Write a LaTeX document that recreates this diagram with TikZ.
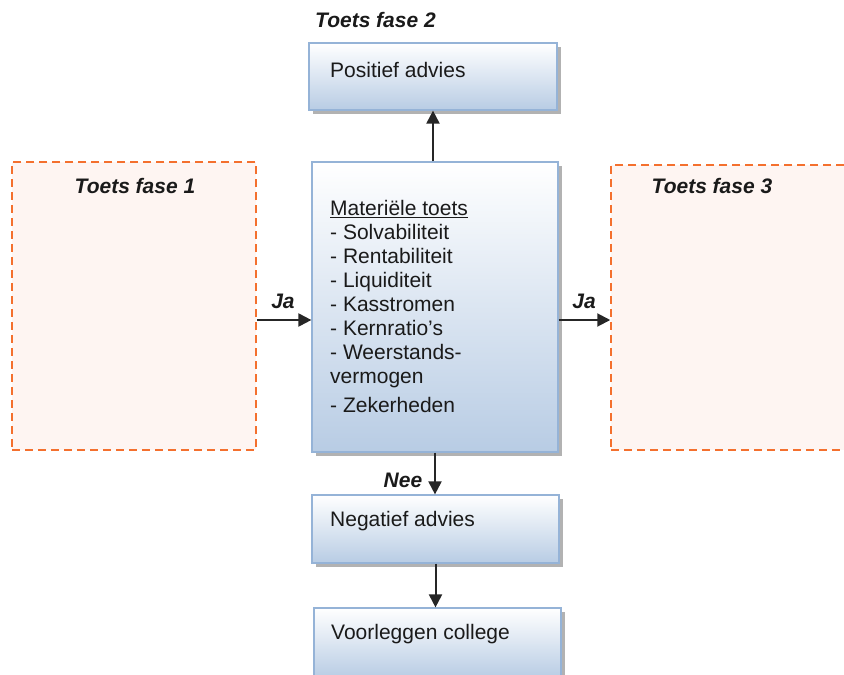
\documentclass[tikz,border=0pt]{standalone}
\usepackage{fontspec}
\setmainfont{Liberation Sans}
\usetikzlibrary{arrows.meta,shadows,calc}
\definecolor{boxtop}{HTML}{FFFFFF}
\definecolor{boxbot}{HTML}{B8CCE4}
\definecolor{boxline}{HTML}{95B3D7}
\definecolor{phaseline}{HTML}{F4702E}
\definecolor{phasefill}{HTML}{FEF5F2}
\definecolor{txt}{HTML}{1A1A1A}
\tikzset{
  bluebox/.style={draw=boxline, line width=1.2pt, top color=boxtop, bottom color=boxbot,
    drop shadow={shadow xshift=4pt, shadow yshift=-4pt, fill=black, opacity=0.3},
    inner sep=0pt},
  phasebox/.style={draw=phaseline, fill=phasefill, line width=1.5pt, dash pattern=on 8pt off 5pt, inner sep=0pt},
  btext/.style={font=\fontsize{21}{24}\selectfont, text=txt, inner sep=0pt},
  hdr/.style={font=\fontsize{21}{24}\selectfont\bfseries\itshape, text=txt, inner sep=0pt},
  arr/.style={line width=2pt, draw=black!85, -{Triangle[length=13pt,width=13pt]}}
}
\begin{document}
\begin{tikzpicture}[x=1pt,y=-1pt]
\useasboundingbox (0,0) rectangle (844,675);
\clip (0,0) rectangle (844,675);
% phase boxes
\node[phasebox, minimum width=244pt, minimum height=288pt] (fase1) at (134,306) {};
\node[phasebox, minimum width=260pt, minimum height=285pt] (fase3) at (741,307.5) {};
% blue boxes
\node[bluebox, minimum width=248pt, minimum height=67pt] (pos) at (433,76.5) {};
\node[bluebox, minimum width=246pt, minimum height=290pt] (mat) at (435,307) {};
\node[bluebox, minimum width=247pt, minimum height=68pt] (neg) at (435.5,529) {};
\node[bluebox, minimum width=247pt, minimum height=70pt] (voor) at (437.5,643) {};
% texts
\node[hdr, anchor=west] (t2) at (315,20) {Toets fase 2};
\node[hdr] (t1) at (135,186) {Toets fase 1};
\node[hdr] (t3) at (712,186) {Toets fase 3};
\node[btext, anchor=west] (postxt) at (330,70) {Positief advies};
\node[btext, anchor=west] (negtxt) at (330,521) {Negatief advies};
\node[btext, anchor=west] (voortxt) at (331,634) {Voorleggen college};
\node[btext, anchor=north west, align=left] (mattxt) at (330,200) {\underline{Materiële toets}\\
- Solvabiliteit\\
- Rentabiliteit\\
- Liquiditeit\\
- Kasstromen\\
- Kernratio’s\\
- Weerstands-\\
vermogen\\[5pt]
- Zekerheden};
% connectors
\coordinate (ya) at (0,320);
\draw[arr] (mat.north -| pos.south) -- (pos.south);
\draw[arr] (fase1.east |- ya) -- (mat.west |- ya);
\draw[arr] (mat.east |- ya) -- (fase3.west |- ya);
\draw[arr] (mat.south) -- (neg.north -| mat.south);
\draw[arr] (neg.south) -- (voor.north -| neg.south);
% labels
\node[hdr] (ja1) at (283,301) {Ja};
\node[hdr] (ja2) at (584,301) {Ja};
\node[hdr] (nee) at (403,480) {Nee};
\end{tikzpicture}
\end{document}
